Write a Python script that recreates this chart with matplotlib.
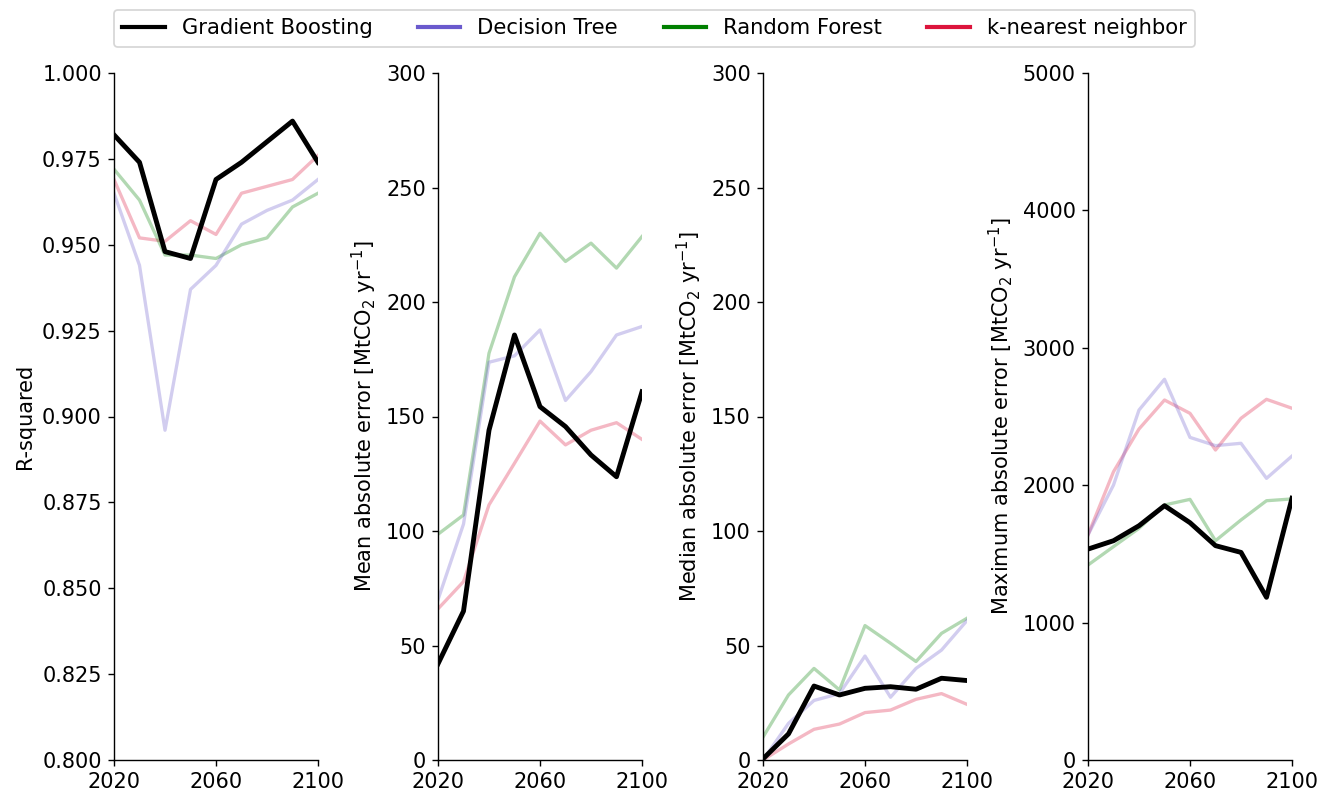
import matplotlib.pyplot as plt
from matplotlib.lines import Line2D

years = [2020, 2030, 2040, 2050, 2060, 2070, 2080, 2090, 2100]
models = ['Gradient Boosting', 'Decision Tree', 'Random Forest', 'k-nearest neighbor']
colors = ['black', 'slateblue', 'green', 'crimson']

# R-squared
r2_gb = [0.982, 0.974, 0.948, 0.946, 0.969, 0.974, 0.980, 0.986, 0.974]
r2_dt = [0.965, 0.944, 0.896, 0.937, 0.944, 0.956, 0.960, 0.963, 0.969]
r2_rf = [0.972, 0.963, 0.947, 0.947, 0.946, 0.950, 0.952, 0.961, 0.965]
r2_knn = [0.969, 0.952, 0.951, 0.957, 0.953, 0.965, 0.967, 0.969, 0.976]

# mean absolute error
mae_gb = [42, 65, 144, 185.6, 154.3, 145.6, 133.2, 123.7, 160.8]
mae_dt = [70, 103, 173.7, 176.5, 187.8, 157, 169.6, 185.6, 189.3]
mae_rf = [98.6, 107, 177.6, 211, 230, 217.7, 225.7, 214.8, 228.6]
mae_knn = [66, 77.9, 111.4, 129.6, 148, 137.6, 144, 147.3, 140]

# median absolute error
medae_gb = [0.5, 11.4, 32.3, 28.4, 31.3, 32, 30.9, 35.7, 34.7]
medae_dt = [0, 16, 26, 29, 45.4, 27.4, 40, 48, 60.9]
medae_rf = [10, 28.4, 40, 30.6, 58.7, 51, 43, 55.3, 61.9]
medae_knn = [0, 7, 13.4, 15.7, 20.7, 21.8, 26.5, 29, 24.3]

# maximum absolute error
maxae_gb = [1535, 1596, 1705, 1851, 1727, 1560, 1511, 1184, 1905]
maxae_dt = [1638, 2001, 2547, 2771, 2348, 2288, 2305, 2050, 2212]
maxae_rf = [1419, 1553, 1686, 1856, 1897, 1596, 1747, 1887, 1900]
maxae_knn = [1638, 2098, 2409, 2620, 2523, 2256, 2487, 2625, 2560]

panels = [
    ([r2_gb, r2_dt, r2_rf, r2_knn], 'R-squared', (0.8, 1.0)),
    ([mae_gb, mae_dt, mae_rf, mae_knn], 'Mean absolute error [MtCO$_2$ yr$^{-1}$]', (0, 300)),
    ([medae_gb, medae_dt, medae_rf, medae_knn], 'Median absolute error [MtCO$_2$ yr$^{-1}$]', (0, 300)),
    ([maxae_gb, maxae_dt, maxae_rf, maxae_knn], 'Maximum absolute error [MtCO$_2$ yr$^{-1}$]', (0, 5000)),
]

plt.rcParams['font.size'] = 12
DPI = 125
fig = plt.figure(figsize=(1321 / DPI, 795 / DPI), dpi=DPI)

lefts = [114, 438, 763, 1088]
for left, (series, ylabel, ylim) in zip(lefts, panels):
    ax = fig.add_axes([left / 1321, 35 / 795, 204 / 1321, 687 / 795])
    # draw the other models first, gradient boosting on top
    for vals, col in list(zip(series, colors))[::-1]:
        if col == 'black':
            ax.plot(years, vals, color=col, lw=2.8, zorder=5)
        else:
            ax.plot(years, vals, color=col, lw=1.9, alpha=0.3)
    ax.set_xlim(2020, 2100)
    ax.set_ylim(*ylim)
    ax.set_xticks([2020, 2060, 2100])
    ax.set_ylabel(ylabel)
    ax.spines['top'].set_visible(False)
    ax.spines['right'].set_visible(False)

handles = [Line2D([], [], color=c, lw=2.4) for c in colors]
fig.legend(handles, models, loc='upper left', ncol=4, borderaxespad=0,
           fontsize=12.2, columnspacing=2.15,
           bbox_to_anchor=(114 / 1321, 1 - 10 / 795))

plt.savefig('out.png', dpi=DPI)
